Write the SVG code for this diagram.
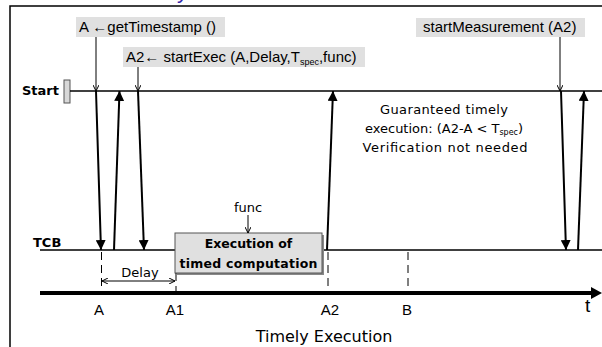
<svg xmlns="http://www.w3.org/2000/svg" width="602" height="347" viewBox="0 0 602 347">
  <style>
    .frame { stroke: #000; stroke-width: 1.5; fill: none; }
    .line { stroke: #000; stroke-width: 1.3; fill: none; }
    .arrow { stroke: #000; stroke-width: 2; fill: none; }
    .thin { stroke: #000; stroke-width: 1; fill: none; }
    .dash { stroke: #000; stroke-width: 1; fill: none; stroke-dasharray: 8 5; }
    .label-bg { fill: #e0e0e0; }
    .sans { font-family: "Liberation Sans", Arial, sans-serif; font-size: 15px; fill: #000; }
    .hand { font-family: "DejaVu Sans", "Noto Sans", sans-serif; font-size: 13px; fill: #000; }
    .hand-b { font-family: "DejaVu Sans", "Noto Sans", sans-serif; font-size: 12.5px; font-weight: bold; fill: #000; }
  </style>
  <defs>
    <marker id="head" viewBox="0 0 10 10" refX="10" refY="5" markerWidth="10" markerHeight="10" markerUnits="userSpaceOnUse" orient="auto">
      <path d="M0,0 L10,5 L0,10 z" fill="#000"/>
    </marker>
    <marker id="tick" viewBox="0 0 6 6" refX="6" refY="3" markerWidth="6" markerHeight="6" markerUnits="userSpaceOnUse" orient="auto">
      <path d="M0,0 L6,3 L0,6" fill="none" stroke="#000" stroke-width="1"/>
    </marker>
    <marker id="tick-start" viewBox="0 0 6 6" refX="0" refY="3" markerWidth="6" markerHeight="6" markerUnits="userSpaceOnUse" orient="auto">
      <path d="M6,0 L0,3 L6,6" fill="none" stroke="#000" stroke-width="1"/>
    </marker>
  </defs>

  <rect width="602" height="347" fill="#fff"/>

  <!-- title descender peeking above the frame -->
  <text x="177" y="-2" font-family="Liberation Sans, Arial, sans-serif" font-size="22" fill="#3322aa">y</text>

  <!-- outer frame -->
  <path class="frame" d="M10,347 L10,6 L602,6"/>

  <!-- timelines -->
  <g id="start-line">
    <rect x="64" y="80" width="6" height="23" fill="#d8d8d8" stroke="#555" stroke-width="1"/>
    <text class="hand-b" x="22" y="95" style="font-size:13px">Start</text>
    <line class="line" x1="70" y1="91" x2="602" y2="91"/>
  </g>
  <g id="tcb-line">
    <text class="hand-b" x="33" y="247" style="font-size:13px">TCB</text>
    <line class="line" x1="40" y1="250" x2="602" y2="250"/>
  </g>
  <g id="time-axis">
    <line x1="40" y1="293" x2="593" y2="293" stroke="#000" stroke-width="4"/>
    <path d="M591,287 L602,293 L591,299 z" fill="#000"/>
    <g class="sans" text-anchor="middle">
      <text x="99" y="315">A</text>
      <text x="175" y="315">A1</text>
      <text x="330" y="315">A2</text>
      <text x="407" y="315">B</text>
    </g>
    <text class="sans" x="585" y="312" style="font-size:19px">t</text>
    <text class="hand" x="324" y="342" text-anchor="middle" style="font-size:16px">Timely Execution</text>
  </g>

  <!-- call labels -->
  <g id="get-timestamp">
    <rect class="label-bg" x="76" y="17" width="149" height="20"/>
    <text class="sans" x="79" y="32">A ←getTimestamp ()</text>
  </g>
  <g id="start-exec">
    <rect class="label-bg" x="123" y="47" width="242" height="20"/>
    <text class="sans" x="126" y="62">A2← startExec (A,Delay,T<tspan style="font-size:9px" dy="3">spec</tspan><tspan dy="-3">,func)</tspan></text>
  </g>
  <g id="start-measurement">
    <rect class="label-bg" x="416" y="18" width="169" height="19"/>
    <text class="sans" x="423" y="32">startMeasurement (A2)</text>
  </g>

  <!-- timed computation block -->
  <g id="execution">
    <rect x="177" y="235" width="147" height="40" fill="#888"/>
    <rect x="175" y="233" width="147" height="40" fill="#e0e0e0" stroke="#555" stroke-width="1"/>
    <text class="hand-b" x="248.5" y="248" text-anchor="middle">Execution of</text>
    <text class="hand-b" x="248.5" y="268" text-anchor="middle" textLength="138">timed computation</text>
  </g>
  <g id="func">
    <text class="hand" x="248" y="212" text-anchor="middle">func</text>
    <line class="thin" x1="248" y1="215" x2="248" y2="233" marker-end="url(#tick)"/>
  </g>

  <!-- annotation -->
  <g id="note" class="hand" text-anchor="middle">
    <text x="444" y="114" textLength="128">Guaranteed timely</text>
    <text x="444" y="133">execution: (A2-A &lt; T<tspan style="font-size:8px" dy="2">spec</tspan><tspan dy="-2">)</tspan></text>
    <text x="445" y="152" textLength="165">Verification not needed</text>
  </g>

  <!-- connectors -->
  <g id="connectors">
    <line class="thin" x1="96" y1="37" x2="96" y2="91" marker-end="url(#tick)"/>
    <line class="arrow" x1="96" y1="91" x2="101" y2="250" marker-end="url(#head)"/>
    <line class="arrow" x1="114" y1="250" x2="119.5" y2="91" marker-end="url(#head)"/>
    <line class="thin" x1="138" y1="67" x2="138" y2="91" marker-end="url(#tick)"/>
    <line class="arrow" x1="138" y1="91" x2="144" y2="250" marker-end="url(#head)"/>
    <line class="arrow" x1="327" y1="250" x2="333" y2="91" marker-end="url(#head)"/>
    <line class="thin" x1="560" y1="37" x2="560" y2="91" marker-end="url(#tick)"/>
    <line class="arrow" x1="561" y1="91" x2="566" y2="250" marker-end="url(#head)"/>
    <line class="arrow" x1="578" y1="250" x2="584" y2="91" marker-end="url(#head)"/>

    <!-- instants on the time axis -->
    <line class="dash" x1="101.5" y1="252" x2="101.5" y2="293"/>
    <line class="dash" x1="176" y1="273" x2="176" y2="293"/>
    <line class="dash" x1="328" y1="252" x2="328" y2="293"/>
    <line class="dash" x1="408" y1="252" x2="408" y2="293"/>

    <!-- delay span -->
    <line class="thin" x1="102" y1="281" x2="175" y2="281" marker-start="url(#tick-start)" marker-end="url(#tick)"/>
    <text class="hand" x="140" y="277" text-anchor="middle">Delay</text>
  </g>
</svg>
